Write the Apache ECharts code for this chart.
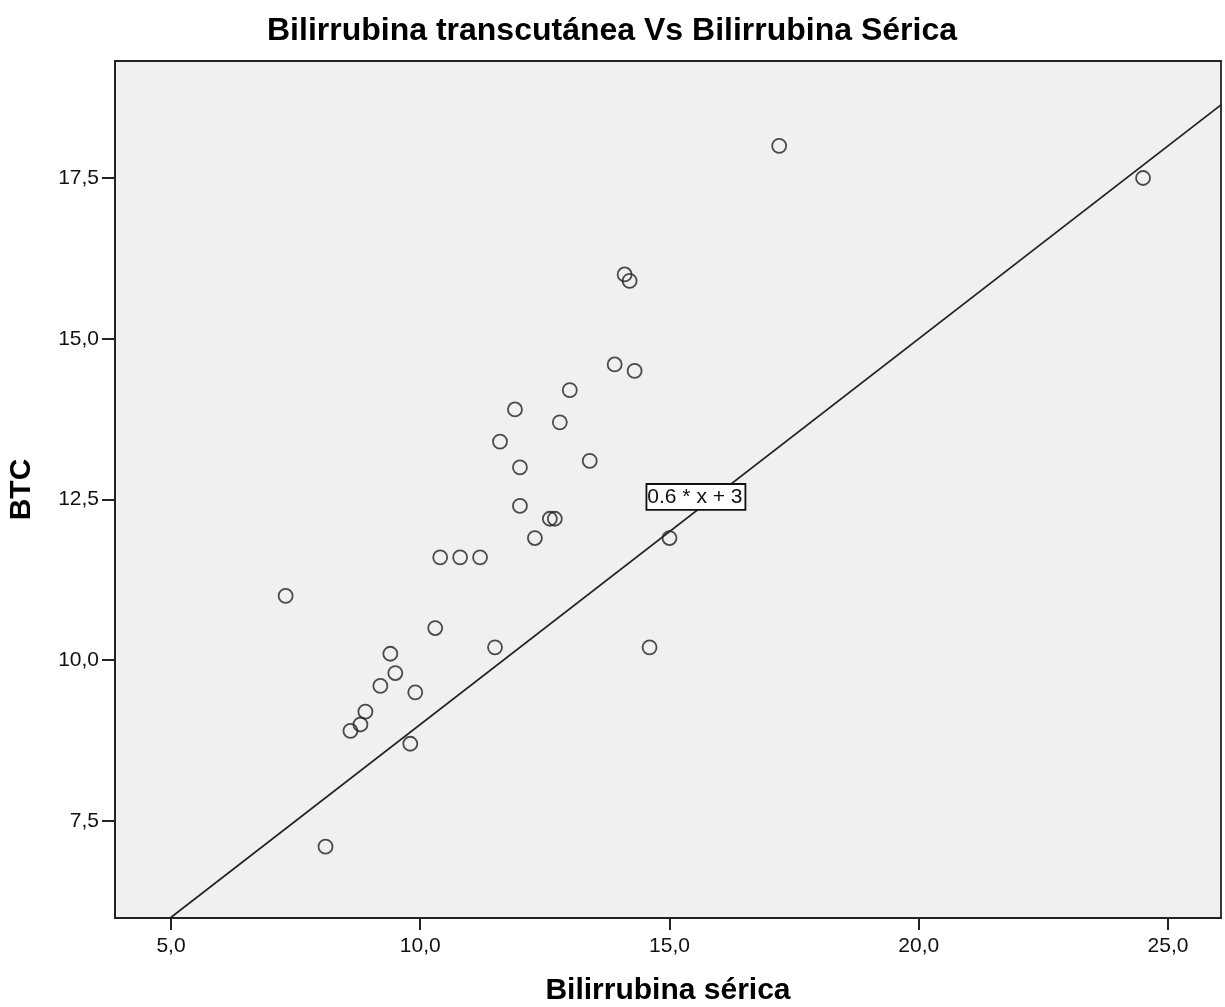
<!DOCTYPE html>
<html>
<head>
<meta charset="utf-8">
<script src="https://cdn.jsdelivr.net/npm/echarts@6/dist/echarts.min.js"></script>
<style>html,body{margin:0;padding:0;background:#fff}#c{width:1225px;height:1007px}</style>
</head>
<body>
<div id="c"></div>
<script>
var titleText = 'Bilirrubina transcutánea Vs Bilirrubina Sérica';
var xName = 'Bilirrubina sérica';
var yName = 'BTC';
var serica = [7.3, 8.1, 8.6, 8.8, 8.9, 9.2, 9.4, 9.5, 9.8, 9.9, 10.3, 10.4, 10.8, 11.2, 11.5, 11.6, 11.9, 12.0, 12.0, 12.3, 12.6, 12.7, 12.8, 13.0, 13.4, 13.9, 14.1, 14.2, 14.3, 14.6, 15.0, 17.2, 24.5];
var btc    = [11.0, 7.1, 8.9, 9.0, 9.2, 9.6, 10.1, 9.8, 8.7, 9.5, 10.5, 11.6, 11.6, 11.6, 10.2, 13.4, 13.9, 13.0, 12.4, 11.9, 12.2, 12.2, 13.7, 14.2, 13.1, 14.6, 16.0, 15.9, 14.5, 10.2, 11.9, 18.0, 17.5];
var xTicks = [5, 10, 15, 20, 25];
var yTicks = [7.5, 10, 12.5, 15, 17.5];
var fitSlope = 0.6, fitIntercept = 3;
var fitLabel = '0.6 * x + 3';
var xMin = 3.877, xMax = 26.063, yMin = 5.99, yMax = 19.32;

var pts = serica.map(function (v, i) { return [v, btc[i]]; });
var fitLine = [xMin, xMax].map(function (x) { return [x, fitSlope * x + fitIntercept]; });
function fmt(v) { return v.toFixed(1).replace('.', ','); }

var chart = echarts.init(document.getElementById('c'), null, {renderer: 'canvas'});
chart.setOption({
  backgroundColor: '#fff',
  animation: false,
  title: {
    text: titleText, left: 607, top: 10, textAlign: 'center',
    textStyle: {fontFamily: 'Liberation Sans', fontWeight: 'bold', fontSize: 32, color: '#000'}
  },
  grid: {left: 115, right: 4, top: 61, bottom: 89, outerBoundsMode: 'none', containLabel: false,
    show: true, backgroundColor: '#f0f0f0', borderColor: '#222', borderWidth: 1.8},
  xAxis: {
    type: 'value', min: xMin, max: xMax,
    name: xName, nameLocation: 'middle', nameGap: 58,
    nameTextStyle: {fontFamily: 'Liberation Sans', fontWeight: 'bold', fontSize: 30, color: '#000'},
    splitLine: {show: false},
    axisLine: {show: true, lineStyle: {color: '#222', width: 1.8}},
    axisTick: {show: true, length: 12, lineStyle: {color: '#222', width: 2}, customValues: xTicks},
    axisLabel: {customValues: xTicks, formatter: fmt, margin: 18, fontFamily: 'Liberation Sans', fontSize: 21, color: '#111'}
  },
  yAxis: {
    type: 'value', min: yMin, max: yMax,
    name: yName, nameLocation: 'middle', nameGap: 78,
    nameTextStyle: {fontFamily: 'Liberation Sans', fontWeight: 'bold', fontSize: 30, color: '#000'},
    splitLine: {show: false},
    axisLine: {show: true, lineStyle: {color: '#222', width: 1.8}},
    axisTick: {show: true, length: 13, lineStyle: {color: '#222', width: 2}, customValues: yTicks},
    axisLabel: {customValues: yTicks, formatter: fmt, margin: 16, fontFamily: 'Liberation Sans', fontSize: 21, color: '#111'}
  },
  series: [
    {
      type: 'line', data: fitLine, clip: true, symbol: 'none',
      lineStyle: {color: '#222', width: 1.8}, silent: true,
      markPoint: {
        symbol: 'rect', symbolSize: 0,
        data: [{coord: [15.53, 12.54], value: fitLabel}],
        label: {
          show: true, formatter: fitLabel, position: 'inside',
          fontFamily: 'Liberation Sans', fontSize: 21, color: '#111',
          backgroundColor: '#fff', borderColor: '#111', borderWidth: 1.8,
          padding: [2, 2, 1, 0]
        }
      }
    },
    {
      type: 'scatter', data: pts, symbol: 'circle', symbolSize: 14,
      itemStyle: {color: 'rgba(0,0,0,0)', borderColor: '#222', borderWidth: 1.8}
    }
  ]
});
</script>
</body>
</html>
